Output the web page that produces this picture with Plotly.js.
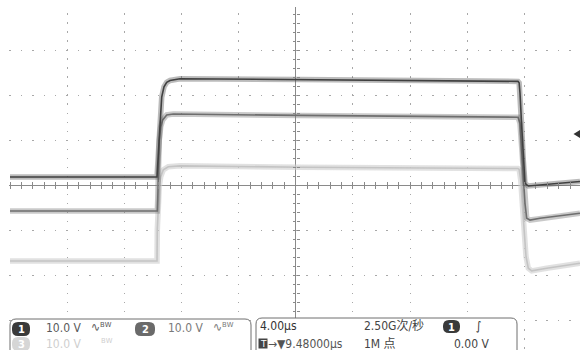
<!DOCTYPE html>
<html><head><meta charset="utf-8">
<script src="https://cdn.plot.ly/plotly-3.0.1.min.js"></script>
<style>html,body{margin:0;padding:0;background:#fff;}#chart{width:580px;height:350px;}</style>
</head><body><div id="chart"></div>
<script>
// ---- data (time in µs, voltage in V relative to each channel's ground marker) ----
const ch1Time  = [-20.0, -9.71, -9.64, -9.55, -9.50, -9.44, -9.38, -9.22, -9.03, -8.80, -8.10, 0.30, 8.70, 15.56, 15.64, 15.70, 15.82, 15.93, 16.05, 16.28, 17.10, 19.90];
const ch1Volts = [0, 0, 3.8, 10.4, 13.7, 14.6, 17.7, 20.0, 21.0, 21.4, 21.8, 21.6, 21.4, 21.2, 20.9, 18.6, 11.2, 3.8, -1.4, -2.0, -1.8, -1.0];

const ch2Time  = [-20.0, -9.69, -9.66, -9.62, -9.55, -9.45, -9.31, -9.03, -8.57, 0.30, 8.70, 15.56, 15.70, 15.82, 15.93, 16.05, 16.17, 16.40, 17.10, 18.50, 19.90];
const ch2Volts = [0, 0, 2.4, 11.3, 15.7, 18.7, 20.2, 21.3, 21.5, 21.2, 21.0, 20.8, 19.4, 13.5, 6.9, 1.7, -1.6, -2.0, -1.6, -1.1, -0.5];

const ch3Time  = [-20.0, -9.71, -9.69, -9.62, -9.55, -9.45, -9.27, -8.92, -8.10, 0.30, 8.70, 15.56, 15.64, 15.75, 15.86, 15.98, 16.12, 16.28, 16.52, 17.57, 19.90];
const ch3Volts = [0, 0, 6.9, 13.5, 16.5, 18.7, 20.2, 20.9, 21.1, 20.8, 20.7, 20.5, 20.3, 18.0, 12.8, 6.9, 1.0, -1.6, -2.2, -1.6, -0.5];

const channelNames = ['1', '2', '3'];
const voltsPerDiv = [10, 10, 10];
const channelPosDiv = [0.186, -0.568, -1.676];   // vertical position of each channel's ground, in divisions
const scaleLabels = ['10.0 V', '10.0 V', '10.0 V'];
const timePerDivLabel = '4.00µs';
const sampleRateLabel = '2.50G次/秒';
const recordLabel = '1M 点';
const triggerPosLabel = '→▼9.48000µs';
const triggerLevelLabel = '0.00 V';
const usPerDiv = 4;

// ---- geometry ----
const L = 9, T = 7, W = 571, H = 343;
const pxPerDivX = 400/7, pxPerDivY = 45.1;
const xMin = -5*usPerDiv - (10 - L)/pxPerDivX*usPerDiv;
const xMax = xMin + W/pxPerDivX*usPerDiv;
const yMax = 4 - (T - 5)/pxPerDivY;
const yMin = yMax - H/pxPerDivY;
const px = v => (v - L)/W;
const py = v => (350 - v)/H;

const toDiv = (arr, i) => arr.map(v => v/voltsPerDiv[i] + channelPosDiv[i]);

const styles = [
  {band:'rgba(85,85,85,0.4)', core:'#404040'},
  {band:'rgba(120,120,120,0.4)', core:'#6e6e6e'},
  {band:'rgba(205,205,205,0.6)', core:'#c4c4c4'}
];
const series = [[ch1Time, ch1Volts], [ch2Time, ch2Volts], [ch3Time, ch3Volts]];
const traces = [];
[2, 1, 0].forEach(i => {
  const yv = toDiv(series[i][1], i);
  traces.push({type:'scatter', mode:'lines', x:series[i][0], y:yv, line:{color:styles[i].band, width:5.5}, hoverinfo:'skip', showlegend:false});
  traces.push({type:'scatter', mode:'lines', x:series[i][0], y:yv, line:{color:styles[i].core, width:1.6}, name:'CH'+channelNames[i], showlegend:false});
});
// empty traces to host the centre-axis tick marks
traces.push({type:'scatter', x:[], y:[], xaxis:'x2', yaxis:'y', showlegend:false});
traces.push({type:'scatter', x:[], y:[], xaxis:'x3', yaxis:'y', showlegend:false});
traces.push({type:'scatter', x:[], y:[], xaxis:'x', yaxis:'y2', showlegend:false});
traces.push({type:'scatter', x:[], y:[], xaxis:'x', yaxis:'y3', showlegend:false});

const GRID = '#a8a8a8', AX = '#8a8a8a';
const posX = (0 - yMin)/(yMax - yMin);
const posY = (0 - xMin)/(xMax - xMin);
const tickAxX = side => ({overlaying:'x', anchor:'free', position:posX, side, range:[xMin, xMax], showgrid:false, zeroline:false, showticklabels:false, ticks:'outside', ticklen:3, tickwidth:1, tickcolor:AX, dtick:usPerDiv/5, tick0:0, showline:false, fixedrange:true});
const tickAxY = side => ({overlaying:'y', anchor:'free', position:posY, side, range:[yMin, yMax], showgrid:false, zeroline:false, showticklabels:false, ticks:'outside', ticklen:3, tickwidth:1, tickcolor:AX, dtick:0.2, tick0:0, showline:false, fixedrange:true});

const FONT = '"Liberation Sans Narrow", "DejaVu Sans Condensed", "Noto Sans CJK SC", sans-serif';
function rr(x0, y0, x1, y1, r) {
  return `M${px(x0+r)},${py(y0)} L${px(x1-r)},${py(y0)} Q${px(x1)},${py(y0)} ${px(x1)},${py(y0+r)} L${px(x1)},${py(y1-r)} Q${px(x1)},${py(y1)} ${px(x1-r)},${py(y1)} L${px(x0+r)},${py(y1)} Q${px(x0)},${py(y1)} ${px(x0)},${py(y1-r)} L${px(x0)},${py(y0+r)} Q${px(x0)},${py(y0)} ${px(x0+r)},${py(y0)} Z`;
}
const shapes = [];
const annotations = [];
function txt(x, y, text, color, size, extra) {
  annotations.push(Object.assign({xref:'paper', yref:'paper', x:px(x), y:py(y), xanchor:'left', yanchor:'middle', text, showarrow:false, font:{family:FONT, size, color}}, extra || {}));
}
function badge(x0, y0, x1, y1, fill, label) {
  shapes.push({type:'path', xref:'paper', yref:'paper', path:rr(x0, y0, x1, y1, 6), fillcolor:fill, line:{width:0}, layer:'above'});
  txt((x0+x1)/2, (y0+y1)/2 + 0.5, '<b>'+label+'</b>', '#ffffff', 11, {xanchor:'center'});
}
// readout panels
shapes.push({type:'path', xref:'paper', yref:'paper', path:rr(10, 319, 251, 370, 6), fillcolor:'#ffffff', line:{color:'#6e6e6e', width:1}, layer:'above'});
shapes.push({type:'path', xref:'paper', yref:'paper', path:rr(256, 318, 517, 370, 6), fillcolor:'#ffffff', line:{color:'#6e6e6e', width:1}, layer:'above'});
// trigger level marker at right edge
shapes.push({type:'path', xref:'paper', yref:'paper', path:`M${px(573.5)},${py(134)} L${px(581)},${py(129.5)} L${px(581)},${py(138.5)} Z`, fillcolor:'#333333', line:{width:0}, layer:'above'});

badge(12, 322, 30, 336, '#3a3a3a', channelNames[0]);
txt(44, 328, scaleLabels[0], '#5a5a5a', 12);
txt(89, 327, '∿ᴮᵂ', '#5a5a5a', 12);
badge(135, 322, 155, 336, '#6a6a6a', channelNames[1]);
txt(166, 328, scaleLabels[1], '#7a7a7a', 12);
txt(211, 327, '∿ᴮᵂ', '#7a7a7a', 12);
badge(12, 337, 30, 351, '#d6d6d6', channelNames[2]);
txt(44, 344, scaleLabels[2], '#cfcfcf', 12);
txt(99, 343, 'ᴮᵂ', '#cfcfcf', 12);

txt(258, 326, timePerDivLabel, '#333333', 12);
txt(362, 326, sampleRateLabel, '#444444', 12);
badge(443, 320, 460, 333, '#3a3a3a', '1');
txt(474, 326, '∫', '#333333', 12);
shapes.push({type:'rect', xref:'paper', yref:'paper', x0:px(258.5), x1:px(267.5), y0:py(338.5), y1:py(348.5), fillcolor:'#444444', line:{width:0}, layer:'above'});
txt(263, 343.5, 'T', '#ffffff', 9, {xanchor:'center', font:{family:'DejaVu Sans, sans-serif', size:9, color:'#ffffff'}});
txt(266, 344, triggerPosLabel, '#555555', 12);
txt(362, 344, recordLabel, '#444444', 12);
txt(452, 344, triggerLevelLabel, '#444444', 12);

const layout = {
  width:580, height:350,
  margin:{l:L, r:0, t:T, b:0, pad:0},
  paper_bgcolor:'#ffffff', plot_bgcolor:'#ffffff',
  showlegend:false,
  xaxis:{range:[xMin, xMax], showgrid:true, gridcolor:GRID, gridwidth:1, griddash:'0px,6.3px,1.5px,1.22px', dtick:usPerDiv, tick0:0, showticklabels:false, ticks:'', zeroline:true, zerolinecolor:AX, zerolinewidth:1.5, showline:false, fixedrange:true},
  yaxis:{range:[yMin, yMax], showgrid:true, gridcolor:GRID, gridwidth:1, griddash:'0px,0.25px,1.5px,9.68px', dtick:1, tick0:0, showticklabels:false, ticks:'', zeroline:true, zerolinecolor:AX, zerolinewidth:1.5, showline:false, fixedrange:true},
  xaxis2:tickAxX('bottom'), xaxis3:tickAxX('top'),
  yaxis2:tickAxY('left'), yaxis3:tickAxY('right'),
  shapes, annotations
};
Plotly.newPlot('chart', traces, layout, {staticPlot:true, displayModeBar:false});
</script></body></html>
